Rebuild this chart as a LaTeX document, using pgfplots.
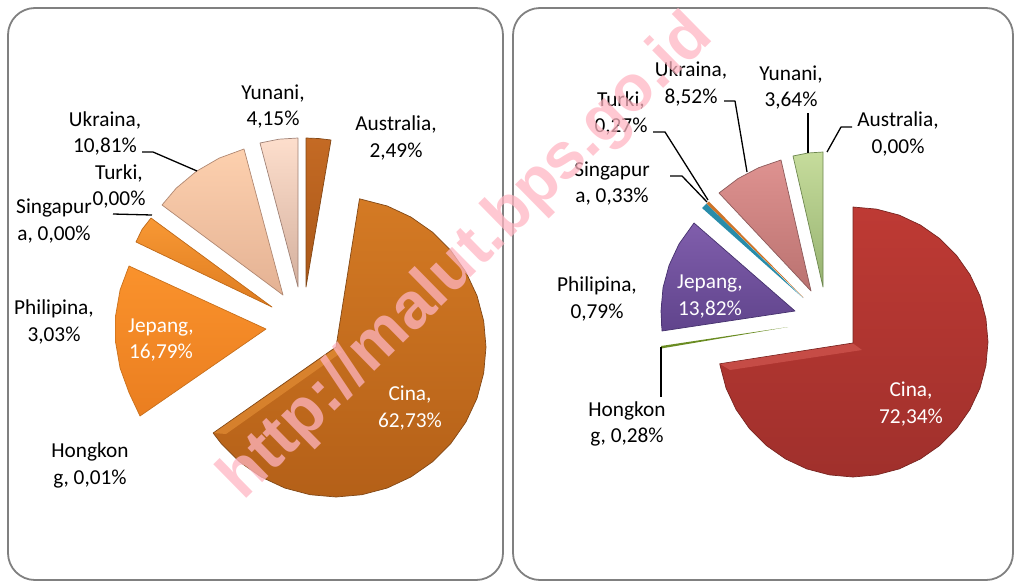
\documentclass[border=0pt]{standalone}
\usepackage{fontspec}
\setmainfont{Carlito}
\newfontfamily\markfont{Liberation Sans}
\usepackage{pgfplots}
\pgfplotsset{compat=1.18}
\newcommand{\lab}[4][black]{\node[text=#1,align=center,inner sep=0pt,font=\fontsize{21.3}{26.7}\selectfont] at (axis cs:#2,#3) {#4};}
\definecolor{framegray}{HTML}{808080}
\begin{document}
\begin{tikzpicture}
\useasboundingbox (0,0) rectangle (1019pt,581pt);
\begin{axis}[
    at={(0,0)}, anchor=south west,
    scale only axis, width=1019pt, height=581pt,
    xmin=0, xmax=1019, ymin=0, ymax=581,
    y dir=reverse, hide axis, clip=false,
    every axis plot/.append style={no marks, line join=round},
]
% panels
\draw[framegray, line width=1.8pt, rounded corners=27pt] (axis cs:8,580) rectangle (axis cs:503,8);
\draw[framegray, line width=1.8pt, rounded corners=27pt] (axis cs:513,580) rectangle (axis cs:1013,8);

% left pie: Cina
\addplot[draw={rgb,255:red,130;green,72;blue,22}, line width=0.7pt, top color={rgb,255:red,212;green,122;blue,36}, bottom color={rgb,255:red,180;green,96;blue,24}] coordinates {
 (336,347) (359.5,198.8) (387.3,206) (411,217.1) (432.4,232.1) (450.9,250.6) (465.9,272) (477,295.7) (483.7,321) (486,347)
 (483.7,373) (477,398.3) (465.9,422) (450.9,443.4) (432.4,461.9) (411,476.9) (387.3,488) (362,494.7) (336,497)
 (310,494.7) (284.7,488) (261,476.9) (239.6,461.9) (221.1,443.4) (213.1,433)} -- cycle;
\addplot[draw=none, fill={rgb,255:red,232;green,146;blue,56}, fill opacity=0.6] coordinates {(214,433) (336,348) (342,352) (226,434)} -- cycle;
% Jepang
\addplot[draw={rgb,255:red,200;green,112;blue,28}, line width=0.7pt, top color={rgb,255:red,250;green,146;blue,44}, bottom color={rgb,255:red,234;green,126;blue,32}] coordinates {
 (266,329) (129,266) (120.1,289.9) (115.6,315.8) (115.6,342.2) (120.1,368.1) (129.1,392.8) (140,416)} -- cycle;
% Philipina
\addplot[draw={rgb,255:red,190;green,105;blue,25}, line width=0.7pt, top color={rgb,255:red,248;green,152;blue,52}, bottom color={rgb,255:red,222;green,124;blue,32}] coordinates {
 (272,307) (151,218) (142,229.5) (136,242)} -- cycle;
% Ukraina
\addplot[draw={rgb,255:red,176;green,136;blue,114}, line width=0.7pt, top color={rgb,255:red,253;green,208;blue,174}, bottom color={rgb,255:red,228;green,178;blue,148}] coordinates {
 (283,295) (244,149) (219.2,158.1) (196.4,171.3) (176.2,188.2) (162,205)} -- cycle;
% Yunani
\addplot[draw={rgb,255:red,160;green,130;blue,118}, line width=0.7pt, top color={rgb,255:red,253;green,222;blue,204}, bottom color={rgb,255:red,212;green,176;blue,158}] coordinates {
 (298,287) (298,138) (278.8,139.2) (260,143)} -- cycle;
% Australia
\addplot[draw={rgb,255:red,130;green,70;blue,20}, line width=0.7pt, top color={rgb,255:red,196;green,106;blue,36}, bottom color={rgb,255:red,170;green,88;blue,24}] coordinates {
 (306,287) (306,138) (318.5,138.5) (331,140)} -- cycle;
% left leaders
\addplot[black, line width=1.3pt] coordinates {(142,152) (153,152) (197,171)};
\addplot[black, line width=1.3pt] coordinates {(113,214) (152,215)};

% right pie: Cina
\addplot[draw={rgb,255:red,120;green,36;blue,32}, line width=0.7pt, top color={rgb,255:red,190;green,58;blue,52}, bottom color={rgb,255:red,160;green,48;blue,44}] coordinates {
 (853,343) (853,207) (876.4,209.1) (899.2,215.1) (920.5,225.1) (939.8,238.6) (956.4,255.2) (969.9,274.5) (979.9,295.8) (985.9,318.6) (988,342)
 (985.9,365.4) (979.9,388.2) (969.9,409.5) (956.4,428.8) (939.8,445.4) (920.5,458.9) (899.2,468.9) (876.4,474.9) (853,477)
 (829.6,474.9) (806.8,468.9) (785.5,458.9) (766.2,445.4) (749.6,428.8) (736.1,409.5) (726.1,388.2) (720.1,365.4) (719.8,363.8)} -- cycle;
\addplot[draw=none, fill={rgb,255:red,214;green,92;blue,86}, fill opacity=0.6] coordinates {(720,364) (853,343.5) (862,350) (730,370)} -- cycle;
% Jepang
\addplot[draw={rgb,255:red,70;green,50;blue,110}, line width=0.7pt, top color={rgb,255:red,128;green,94;blue,172}, bottom color={rgb,255:red,96;green,68;blue,140}] coordinates {
 (795,311) (694,223) (679,244) (669.1,265.2) (663,287.7) (661,311) (662,331)} -- cycle;
% Hongkong
\addplot[draw=none, fill={rgb,255:red,106;green,140;blue,34}] coordinates {(661,346) (661,348.5) (788,327)} -- cycle;
% Philipina, Turki
\addplot[draw=none, fill={rgb,255:red,40;green,140;blue,170}] coordinates {(702,208) (706.5,203.5) (803,298)} -- cycle;
\addplot[draw=none, fill={rgb,255:red,205;green,115;blue,40}] coordinates {(706.5,203.5) (709,201.5) (803.5,297.5)} -- cycle;
% Ukraina
\addplot[draw={rgb,255:red,140;green,90;blue,90}, line width=0.7pt, top color={rgb,255:red,222;green,146;blue,144}, bottom color={rgb,255:red,186;green,114;blue,112}] coordinates {
 (811,291) (781,160) (758.6,167.7) (738,178.6) (719,193)} -- cycle;
% Yunani
\addplot[draw={rgb,255:red,110;green,135;blue,80}, line width=0.7pt, top color={rgb,255:red,198;green,220;blue,156}, bottom color={rgb,255:red,150;green,178;blue,112}] coordinates {
 (823,287) (823,152) (808,153) (793,156)} -- cycle;
% right leaders
\addplot[black, line width=1.3pt] coordinates {(724,101) (735,101) (747,172)};
\addplot[black, line width=1.3pt] coordinates {(808,113) (808,153)};
\addplot[black, line width=1.3pt] coordinates {(852,127) (841,127) (827,152)};
\addplot[black, line width=1.3pt] coordinates {(653,132) (665,132) (708,200)};
\addplot[black, line width=1.3pt] coordinates {(670,176) (682,176) (707,202)};
\addplot[black, line width=1.3pt] coordinates {(661,347) (661,397)};

% left labels
\lab{273}{106.5}{Yunani,\\4,15\%}
\lab{396}{138}{Australia,\\2,49\%}
\lab{105}{133.5}{Ukraina,\\10,81\%}
\lab{119}{186.5}{Turki,\\0,00\%}
\lab{54}{221}{Singapur\\a, 0,00\%}
\lab{54}{322}{Philipina,\\3,03\%}
\lab[white]{161}{340}{Jepang,\\16,79\%}
\lab{90}{465.5}{Hongkon\\g, 0,01\%}
\lab[white]{410}{408}{Cina,\\62,73\%}
% right labels
\lab{691}{84}{Ukraina,\\8,52\%}
\lab{791}{87.5}{Yunani,\\3,64\%}
\lab{898}{134}{Australia,\\0,00\%}
\lab{621}{113.5}{Turki,\\0,27\%}
\lab{612}{183.5}{Singapur\\a, 0,33\%}
\lab{597}{299}{Philipina,\\0,79\%}
\lab[white]{710}{296.5}{Jepang,\\13,82\%}
\lab{627}{424}{Hongkon\\g, 0,28\%}
\lab[white]{911}{404}{Cina,\\72,34\%}

% watermark
\node[rotate=44.5, text={rgb,255:red,255;green,181;blue,194}, text opacity=0.74, font=\markfont\bfseries\fontsize{65}{65}\selectfont] at (axis cs:467,258) {http://malut.bps.go.id};
\end{axis}
\end{tikzpicture}
\end{document}
